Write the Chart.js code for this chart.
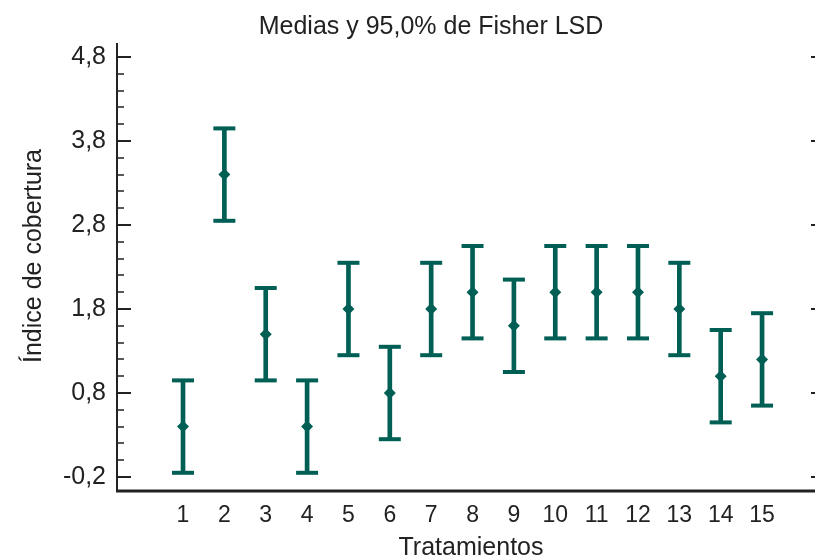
<!DOCTYPE html>
<html>
<head>
<meta charset="utf-8">
<script src="https://cdn.jsdelivr.net/npm/chart.js@4.4.1/dist/chart.umd.min.js"></script>
<style>
  html, body { margin: 0; padding: 0; background: #fff; }
  #wrap { width: 815px; height: 557px; }
</style>
</head>
<body>
<div id="wrap"><canvas id="chart" width="815" height="557"></canvas></div>
<script>
// data
const tratamientos = [1, 2, 3, 4, 5, 6, 7, 8, 9, 10, 11, 12, 13, 14, 15];
const medias = [0.4, 3.4, 1.5, 0.4, 1.8, 0.8, 1.8, 2.0, 1.6, 2.0, 2.0, 2.0, 1.8, 1.0, 1.2];
const limInferior = [-0.15, 2.85, 0.95, -0.15, 1.25, 0.25, 1.25, 1.45, 1.05, 1.45, 1.45, 1.45, 1.25, 0.45, 0.65];
const limSuperior = [0.95, 3.95, 2.05, 0.95, 2.35, 1.35, 2.35, 2.55, 2.15, 2.55, 2.55, 2.55, 2.35, 1.55, 1.75];

const yTicks = [-0.2, 0.8, 1.8, 2.8, 3.8, 4.8];
const yMinorTicks = [0.0, 0.2, 0.4, 0.6, 1.0, 1.2, 1.4, 1.6, 2.0, 2.2, 2.4, 2.6,
  3.0, 3.2, 3.4, 3.6, 4.0, 4.2, 4.4, 4.6];

const titulo = "Medias y 95,0% de Fisher LSD";
const tituloX = "Tratamientos";
const tituloY = "Índice de cobertura";

const TEAL = "#005f55";
const FONT = "'Liberation Sans', Arial, sans-serif";

// axis lines, inward ticks and titles
const axisDecor = {
  id: "axisDecor",
  afterDraw(chart) {
    const { ctx, chartArea } = chart;
    const y = chart.scales.y;
    ctx.save();
    ctx.strokeStyle = "#222";
    ctx.lineCap = "butt";

    // left axis
    ctx.lineWidth = 2;
    ctx.beginPath();
    ctx.moveTo(chartArea.left, chartArea.top);
    ctx.lineTo(chartArea.left, chartArea.bottom);
    ctx.stroke();

    // bottom axis
    ctx.lineWidth = 3;
    ctx.beginPath();
    ctx.moveTo(chartArea.left - 1, chartArea.bottom);
    ctx.lineTo(chartArea.right, chartArea.bottom);
    ctx.stroke();

    ctx.lineWidth = 2;
    yTicks.forEach((v) => {
      const py = Math.round(y.getPixelForValue(v));
      ctx.beginPath();
      ctx.moveTo(chartArea.left, py);
      ctx.lineTo(chartArea.left + 14, py);
      ctx.moveTo(chartArea.right - 4, py);
      ctx.lineTo(chartArea.right, py);
      ctx.stroke();
    });
    ctx.lineWidth = 1.5;
    yMinorTicks.forEach((v) => {
      const py = Math.round(y.getPixelForValue(v));
      ctx.beginPath();
      ctx.moveTo(chartArea.left, py);
      ctx.lineTo(chartArea.left + 7, py);
      ctx.stroke();
    });

    ctx.fillStyle = "#222";
    ctx.textAlign = "center";
    ctx.textBaseline = "alphabetic";
    ctx.font = "25px " + FONT;
    ctx.fillText(titulo, 431, 34);

    ctx.fillText(tituloX, 471, 555);

    ctx.translate(41, 256);
    ctx.rotate(-Math.PI / 2);
    ctx.fillText(tituloY, 0, 0);
    ctx.restore();
  },
};

new Chart(document.getElementById("chart"), {
  type: "scatter",
  data: {
    datasets: [
      {
        type: "scatter",
        label: "media",
        data: tratamientos.map((t, i) => ({ x: t, y: medias[i] })),
        pointStyle: "rectRot",
        pointRadius: 6,
        backgroundColor: TEAL,
        borderColor: TEAL,
        borderWidth: 0,
      },
      {
        type: "scatter",
        label: "superior",
        data: tratamientos.map((t, i) => ({ x: t, y: limSuperior[i] })),
        pointStyle: "line",
        pointRadius: 11,
        borderColor: TEAL,
        borderWidth: 4,
      },
      {
        type: "scatter",
        label: "inferior",
        data: tratamientos.map((t, i) => ({ x: t, y: limInferior[i] })),
        pointStyle: "line",
        pointRadius: 11,
        borderColor: TEAL,
        borderWidth: 4,
      },
      {
        type: "bar",
        label: "intervalo",
        data: tratamientos.map((t, i) => ({ x: t, y: [limInferior[i], limSuperior[i]] })),
        backgroundColor: TEAL,
        borderWidth: 0,
        barThickness: 4,
      },
    ],
  },
  options: {
    responsive: false,
    animation: false,
    layout: { autoPadding: false, padding: { top: 43, left: 0, right: 0, bottom: 0 } },
    plugins: {
      legend: { display: false },
      tooltip: { enabled: false },
      title: { display: false },
    },
    scales: {
      x: {
        type: "linear",
        min: -0.596,
        max: 16.28,
        offset: false,
        grid: { display: false, drawTicks: false },
        border: { display: false },
        afterBuildTicks: (s) => {
          s.ticks = tratamientos.map((v) => ({ value: v }));
        },
        afterFit: (s) => {
          s.height = 66;
          s.paddingLeft = 0;
          s.paddingRight = 0;
        },
        ticks: {
          autoSkip: false,
          maxRotation: 0,
          padding: 11,
          color: "#222",
          font: { family: FONT, size: 23 },
          callback: (v) => String(v),
        },
      },
      y: {
        type: "linear",
        min: -0.3667,
        max: 4.9667,
        grid: { display: false, drawTicks: false },
        border: { display: false },
        afterBuildTicks: (s) => {
          s.ticks = yTicks.map((v) => ({ value: v }));
        },
        afterFit: (s) => {
          s.width = 117;
          s.paddingTop = 0;
          s.paddingBottom = 0;
        },
        ticks: {
          padding: 11,
          color: "#222",
          font: { family: FONT, size: 25 },
          callback: (v) => v.toFixed(1).replace(".", ","),
        },
      },
    },
  },
  plugins: [axisDecor],
});
</script>
</body>
</html>
